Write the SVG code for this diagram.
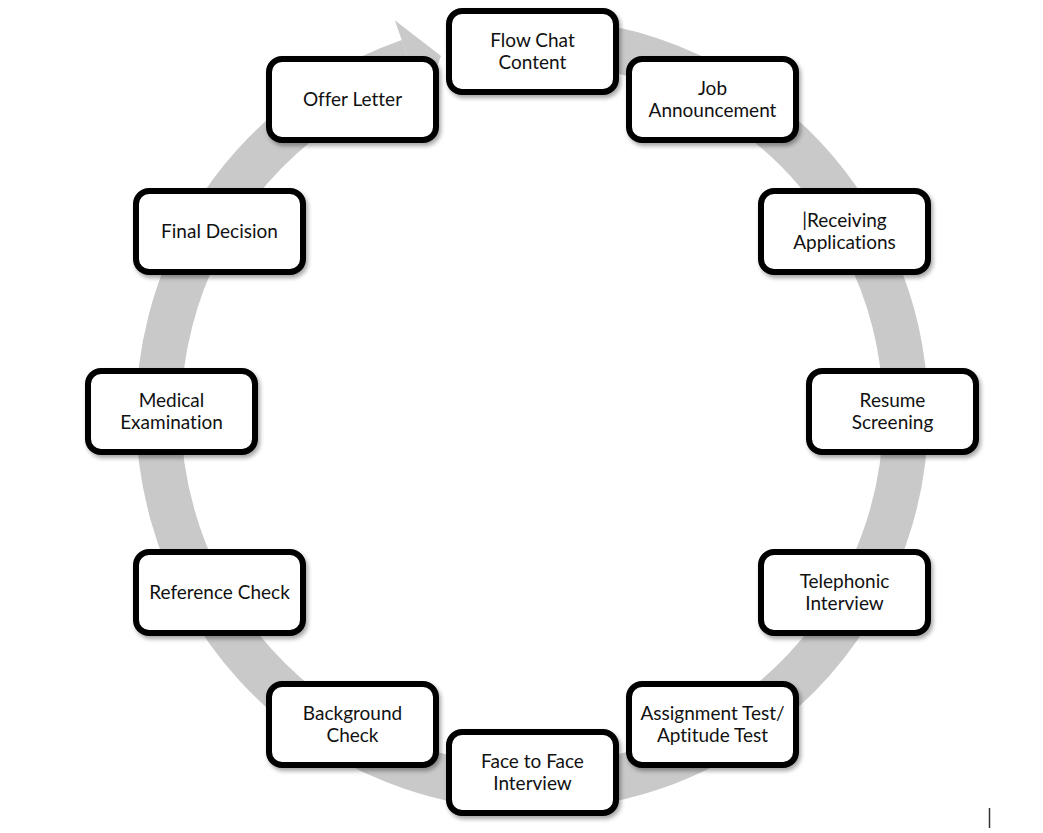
<svg xmlns="http://www.w3.org/2000/svg" width="1043" height="833" viewBox="0 0 1043 833">
<defs>
<style>
.box{fill:#fff;stroke:#000;stroke-width:6;filter:url(#sh)}
.t{font-family:Lato,"Liberation Sans",sans-serif;font-size:19px;fill:#111;text-anchor:middle;font-variant-ligatures:none;font-feature-settings:"liga" 0}
.ring{fill:none;stroke:#c9c9c9;stroke-width:45}
</style>
<filter id="sh" x="-10%" y="-10%" width="130%" height="140%">
<feDropShadow dx="2" dy="3" stdDeviation="2" flood-color="#000" flood-opacity="0.35"/>
</filter>
</defs>
<rect width="1043" height="833" fill="#fff"/>
<g id="connectors">
<path class="ring" d="M545.0,40.7 A373.5,373.5 0 1 1 409.2,61.3"/>
<polygon points="394.8,20.2 441,56 423.5,102.3" fill="#c9c9c9"/>
</g>
<g id="n1"><rect class="box" x="449" y="11" width="167" height="81" rx="13"/><text class="t" x="532.5" y="47">Flow Chat</text><text class="t" x="532.5" y="69">Content</text></g>
<g id="n2"><rect class="box" x="629" y="59" width="167" height="81" rx="13"/><text class="t" x="712.5" y="95">Job</text><text class="t" x="712.5" y="117">Announcement</text></g>
<g id="n3"><rect class="box" x="761" y="191" width="167" height="81" rx="13"/><text class="t" x="844.5" y="227">|Receiving</text><text class="t" x="844.5" y="249">Applications</text></g>
<g id="n4"><rect class="box" x="809" y="371" width="167" height="81" rx="13"/><text class="t" x="892.5" y="407">Resume</text><text class="t" x="892.5" y="429">Screening</text></g>
<g id="n5"><rect class="box" x="761" y="552" width="167" height="81" rx="13"/><text class="t" x="844.5" y="588">Telephonic</text><text class="t" x="844.5" y="610">Interview</text></g>
<g id="n6"><rect class="box" x="629" y="684" width="167" height="81" rx="13"/><text class="t" x="712.5" y="720">Assignment Test/</text><text class="t" x="712.5" y="742">Aptitude Test</text></g>
<g id="n7"><rect class="box" x="449" y="732" width="167" height="81" rx="13"/><text class="t" x="532.5" y="768">Face to Face</text><text class="t" x="532.5" y="790">Interview</text></g>
<g id="n8"><rect class="box" x="269" y="684" width="167" height="81" rx="13"/><text class="t" x="352.5" y="720">Background</text><text class="t" x="352.5" y="742">Check</text></g>
<g id="n9"><rect class="box" x="136" y="552" width="167" height="81" rx="13"/><text class="t" x="219.5" y="599">Reference Check</text></g>
<g id="n10"><rect class="box" x="88" y="371" width="167" height="81" rx="13"/><text class="t" x="171.5" y="407">Medical</text><text class="t" x="171.5" y="429">Examination</text></g>
<g id="n11"><rect class="box" x="136" y="191" width="167" height="81" rx="13"/><text class="t" x="219.5" y="238">Final Decision</text></g>
<g id="n12"><rect class="box" x="269" y="59" width="167" height="81" rx="13"/><text class="t" x="352.5" y="106">Offer Letter</text></g>
<line x1="989.5" y1="808" x2="989.5" y2="828" stroke="#333" stroke-width="1.5"/>
</svg>
